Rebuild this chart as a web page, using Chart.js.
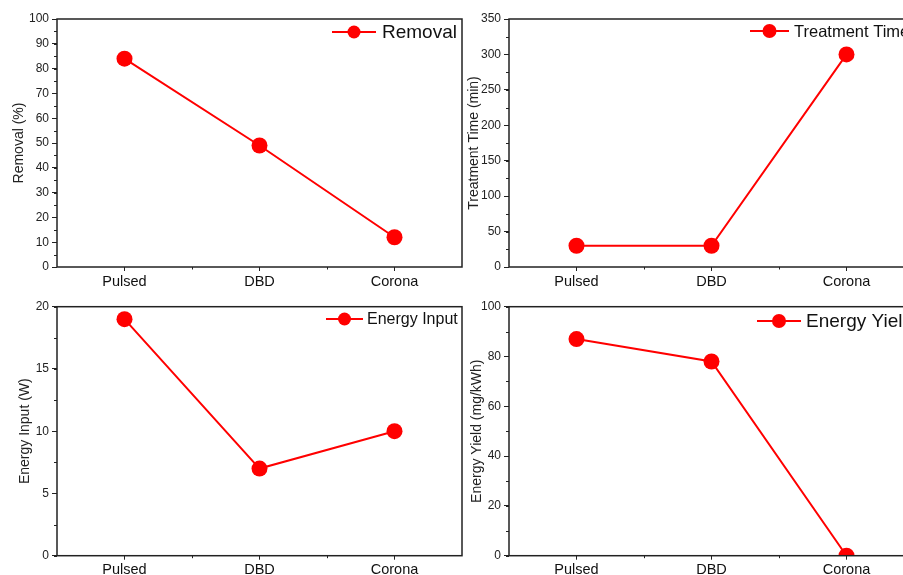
<!DOCTYPE html>
<html>
<head>
<meta charset="utf-8">
<script src="https://cdn.jsdelivr.net/npm/chart.js@4.4.0/dist/chart.umd.min.js"></script>
<style>
  html, body { margin: 0; padding: 0; background: #fff; overflow: hidden; width: 903px; height: 575px; }
  canvas { position: absolute; }
</style>
</head>
<body>
<canvas id="c1" width="470" height="290" style="left:0;top:0"></canvas>
<canvas id="c2" width="460" height="290" style="left:465px;top:0"></canvas>
<canvas id="c3" width="470" height="285" style="left:0;top:290px"></canvas>
<canvas id="c4" width="460" height="285" style="left:465px;top:290px"></canvas>
<script>
const categories = ["Pulsed", "DBD", "Corona"];
const removal = [84, 49, 12];
const treatmentTime = [30, 30, 300];
const energyInput = [19, 7, 10];
const energyYield = [87, 78, 0];

const RED = "#ff0000";
const AXIS = "#222";
const FONT = "'Liberation Sans', Arial, sans-serif";

Chart.defaults.font.family = FONT;

// clip markers to the plot box, then frame, minor ticks and the small legend
const decor = {
  id: "decor",
  beforeDatasetsDraw(chart) {
    const { ctx, chartArea: a } = chart;
    ctx.save();
    ctx.beginPath();
    ctx.rect(a.left, a.top, a.right - a.left, a.bottom - a.top);
    ctx.clip();
  },
  afterDatasetsDraw(chart, args, opts) {
    const { ctx, chartArea: a, scales } = chart;
    ctx.restore();
    ctx.save();
    ctx.strokeStyle = AXIS;
    ctx.lineWidth = 1.5;
    ctx.strokeRect(a.left, a.top, a.right - a.left, a.bottom - a.top);

    ctx.lineWidth = 1;
    ctx.beginPath();
    const y = scales.y;
    for (let v = y.min; v <= y.max; v += opts.minor) {
      const py = Math.round(y.getPixelForValue(v)) + 0.5;
      ctx.moveTo(a.left - 3, py);
      ctx.lineTo(a.left, py);
    }
    const x = scales.x;
    for (let i = 0; i < categories.length - 1; i++) {
      const px = Math.round(x.getPixelForValue(i + 0.5)) + 0.5;
      ctx.moveTo(px, a.bottom);
      ctx.lineTo(px, a.bottom + 2.5);
    }
    ctx.stroke();
    ctx.restore();
  },
  afterDraw(chart, args, opts) {
    const { ctx } = chart;
    const ds = chart.data.datasets[0];
    const lg = opts.legend;
    ctx.save();
    ctx.strokeStyle = RED;
    ctx.fillStyle = RED;
    ctx.lineWidth = 2;
    ctx.beginPath();
    ctx.moveTo(lg.x1, lg.y);
    ctx.lineTo(lg.x2, lg.y);
    ctx.stroke();
    ctx.beginPath();
    ctx.arc((lg.x1 + lg.x2) / 2, lg.y, lg.r, 0, Math.PI * 2);
    ctx.fill();
    ctx.fillStyle = "#111";
    ctx.font = lg.size + "px " + FONT;
    ctx.textBaseline = "middle";
    ctx.fillText(ds.label, lg.tx, lg.y + 1);
    ctx.restore();
  }
};

function makeChart(id, label, values, o) {
  return new Chart(document.getElementById(id), {
    type: "line",
    data: {
      labels: categories,
      datasets: [{
        label: label,
        data: values,
        borderColor: RED,
        backgroundColor: RED,
        borderWidth: 2,
        pointRadius: 8,
        pointHoverRadius: 8,
        pointBorderWidth: 0,
        tension: 0
      }]
    },
    options: {
      responsive: false,
      animation: false,
      events: [],
      layout: { padding: { top: o.top, right: o.right, left: 0, bottom: 0 } },
      plugins: {
        legend: { display: false },
        tooltip: { enabled: false },
        decor: { minor: o.minor, legend: o.legend }
      },
      scales: {
        x: {
          offset: true,
          border: { display: false },
          grid: { drawOnChartArea: false, tickLength: 4, color: AXIS },
          ticks: { color: "#111", font: { size: 14.5 }, padding: 2, maxRotation: 0 },
          afterFit: s => { s.height = o.xh; }
        },
        y: {
          min: 0,
          max: o.max,
          border: { display: false },
          grid: { drawOnChartArea: false, tickLength: 5, color: AXIS },
          ticks: { stepSize: o.step, color: "#222", font: { size: 12 }, padding: 3 },
          title: { display: true, text: o.title, color: "#222", font: { size: 14 }, padding: { top: o.tp, bottom: 0 } },
          afterFit: s => { s.width = o.yw; }
        }
      }
    },
    plugins: [decor]
  });
}

makeChart("c1", "Removal", removal, {
  top: 19, right: 8, xh: 23, yw: 57, tp: 10.6,
  max: 100, step: 10, minor: 5, title: "Removal (%)",
  legend: { x1: 332, x2: 376, y: 32, r: 6.5, tx: 382, size: 19 }
});
makeChart("c2", "Treatment Time", treatmentTime, {
  top: 19, right: 11, xh: 23, yw: 44, tp: 0.6,
  max: 350, step: 50, minor: 25, title: "Treatment Time (min)",
  legend: { x1: 285, x2: 324, y: 31, r: 7, tx: 329, size: 16.5 }
});
makeChart("c3", "Energy Input", energyInput, {
  top: 16.7, right: 8, xh: 19.3, yw: 57, tp: 16.6,
  max: 20, step: 5, minor: 2.5, title: "Energy Input (W)",
  legend: { x1: 326, x2: 363, y: 29, r: 6.5, tx: 367, size: 16 }
});
makeChart("c4", "Energy Yield", energyYield, {
  top: 16.7, right: 11, xh: 19.3, yw: 44, tp: 3.6,
  max: 100, step: 20, minor: 10, title: "Energy Yield (mg/kWh)",
  legend: { x1: 292, x2: 336, y: 31, r: 7, tx: 341, size: 19 }
});
</script>
</body>
</html>
